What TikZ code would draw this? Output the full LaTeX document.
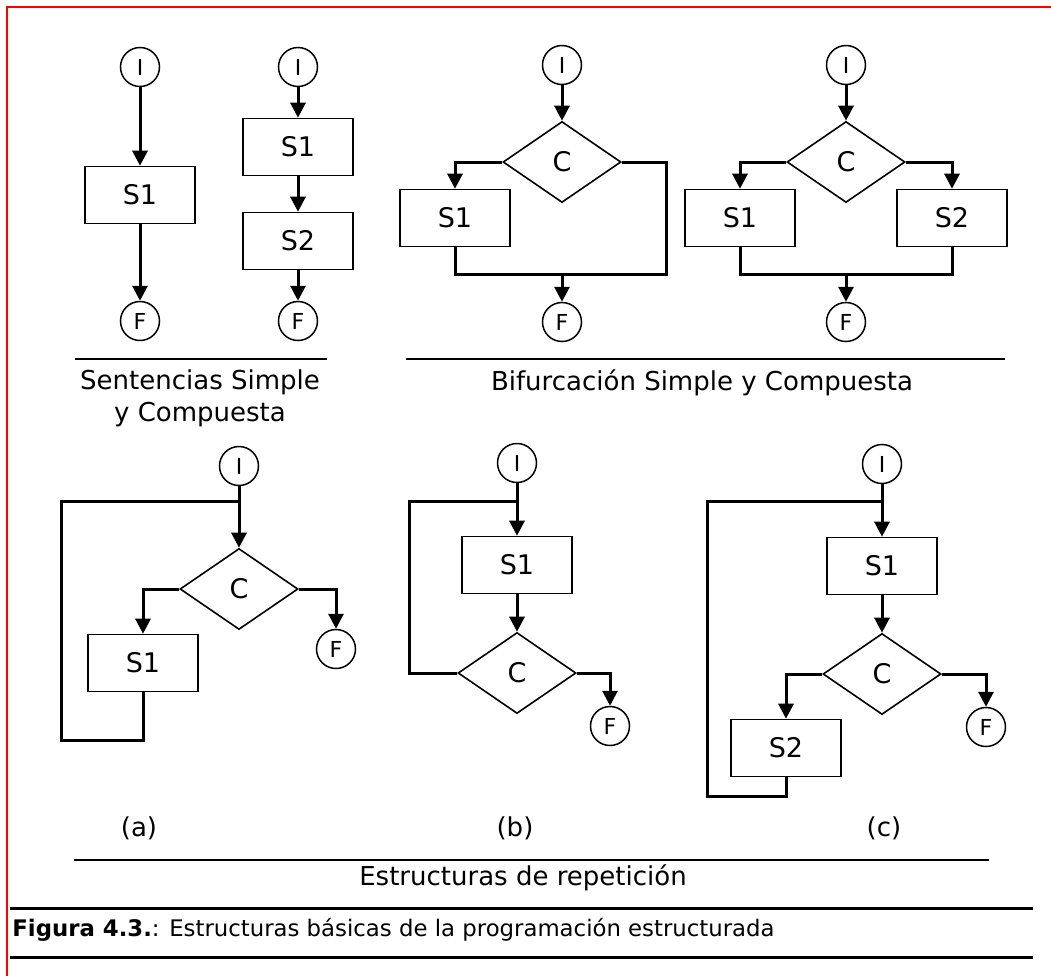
\documentclass[tikz,border=0pt]{standalone}
\usepackage{fontspec}
\setmainfont{DejaVu Sans}
\usepackage{tikz}
\usetikzlibrary{arrows.meta,shapes.geometric}

\tikzset{
  term/.style={circle,draw,line width=0.75pt,minimum size=19.5pt,inner sep=0pt,font=\fontsize{11}{13}\selectfont},
  proc/.style={rectangle,draw,line width=0.8pt,minimum width=55pt,minimum height=28.5pt,font=\fontsize{13.5}{15}\selectfont},
  cond/.style={diamond,draw,line width=0.8pt,minimum width=59pt,minimum height=40.5pt,inner sep=0pt,font=\fontsize{13.5}{15}\selectfont},
  flow/.style={line width=1.5pt,-{Triangle[length=7.5pt,width=7.5pt]}},
  wire/.style={line width=1.5pt},
  rule/.style={line width=1pt},
  label/.style={font=\fontsize{13}{16}\selectfont,align=center},
}

\begin{document}
\begin{tikzpicture}[x=0.5pt,y=-0.5pt]
\useasboundingbox (0,0) rectangle (1051,976);
\draw[red,line width=1pt] (7,976) |- (1051,7);

% sentencias
\node[term] (i1) at (140,67) {I};
\node[proc] (s1) at (140,195) {S1};
\node[term] (f1) at (140,321) {F};
\draw[flow] (i1) -- (s1);
\draw[flow] (s1) -- (f1);

\node[term] (i2) at (298,67) {I};
\node[proc] (s21) at (298,147) {S1};
\node[proc] (s22) at (298,241) {S2};
\node[term] (f2) at (298,321) {F};
\draw[flow] (i2) -- (s21);
\draw[flow] (s21) -- (s22);
\draw[flow] (s22) -- (f2);

% bifurcaciones
\node[term] (i3) at (562,65) {I};
\node[cond] (c3) at (562,162) {C};
\node[proc] (s3) at (455,218) {S1};
\node[term] (f3) at (562,322) {F};
\coordinate (m3) at (562,274);
\coordinate (r3) at (666,274);
\draw[flow] (i3) -- (c3);
\draw[flow] (c3.west) -| (s3.north);
\draw[wire] (s3.south) |- (r3) |- (c3.east);
\draw[flow] (m3) -- (f3);

\node[term] (i4) at (846,65) {I};
\node[cond] (c4) at (846,162) {C};
\node[proc] (s41) at (740,218) {S1};
\node[proc] (s42) at (952,218) {S2};
\node[term] (f4) at (846,322) {F};
\coordinate (m4) at (846,274);
\draw[flow] (i4) -- (c4);
\draw[flow] (c4.west) -| (s41.north);
\draw[flow] (c4.east) -| (s42.north);
\draw[wire] (s41.south) |- (m4) -| (s42.south);
\draw[flow] (m4) -- (f4);

\draw[rule] (75,359) -- (327,359);
\draw[rule] (406,359) -- (1005,359);
\node[label] (t1) at (200,398) {Sentencias Simple\\y Compuesta};
\node[label] (t2) at (702,383) {Bifurcación Simple y Compuesta};

% repeticion (a)
\node[term] (ia) at (239,466) {I};
\node[cond] (ca) at (239,589) {C};
\node[proc] (sa) at (143,663) {S1};
\node[term] (fa) at (336,649) {F};
\coordinate (ja) at (239,501);
\coordinate (la) at (61,740);
\draw[flow] (ia) -- (ca);
\draw[flow] (ca.west) -| (sa.north);
\draw[flow] (ca.east) -| (fa.north);
\draw[wire] (sa.south) |- (la) |- (ja);

% repeticion (b)
\node[term] (ib) at (517,463) {I};
\node[proc] (sb) at (517,565) {S1};
\node[cond] (cb) at (517,673) {C};
\node[term] (fb) at (610,726) {F};
\coordinate (jb) at (517,501);
\coordinate (lb) at (409,673);
\draw[flow] (ib) -- (sb);
\draw[flow] (sb) -- (cb);
\draw[flow] (cb.east) -| (fb.north);
\draw[wire] (cb.west) -- (lb) |- (jb);

% repeticion (c)
\node[term] (ic) at (882,464) {I};
\node[proc] (sc1) at (882,566) {S1};
\node[cond] (cc) at (882,674) {C};
\node[proc] (sc2) at (786,748) {S2};
\node[term] (fc) at (986,727) {F};
\coordinate (jc) at (882,501);
\coordinate (lc) at (707,796);
\draw[flow] (ic) -- (sc1);
\draw[flow] (sc1) -- (cc);
\draw[flow] (cc.west) -| (sc2.north);
\draw[flow] (cc.east) -| (fc.north);
\draw[wire] (sc2.south) |- (lc) |- (jc);

\node[label] (la1) at (139,828) {(a)};
\node[label] (lb1) at (515,828) {(b)};
\node[label] (lc1) at (884,828) {(c)};
\draw[rule] (74,860) -- (989,860);
\node[label] (t3) at (523,878) {Estructuras de repetición};

% pie de figura
\draw[line width=1.5pt] (10,908) -- (1033,908);
\draw[line width=1.5pt] (10,957) -- (1033,957);
\node[anchor=west,inner sep=0pt,font=\fontsize{11.4}{14}\selectfont] (cap) at (12,930) {\textbf{Figura 4.3.}: Estructuras básicas de la programación estructurada};
\end{tikzpicture}
\end{document}
